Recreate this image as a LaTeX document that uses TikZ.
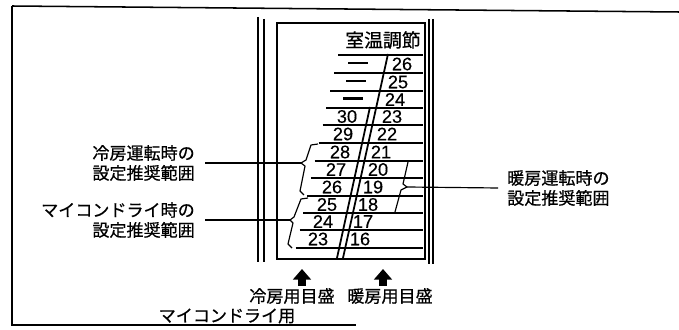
\documentclass[tikz,border=0pt]{standalone}
\usepackage{fontspec}
\setmainfont{Liberation Sans}
\newfontfamily\jpfont{Noto Sans CJK JP}[FakeBold=0.6]
\newfontfamily\numfont{Liberation Sans}[FakeBold=0.3]
\usetikzlibrary{arrows.meta, positioning, calc}

\begin{document}
\begin{tikzpicture}[x=0.85pt, y=-0.85pt,
    note/.style={font=\jpfont\fontsize{14.5}{17}\selectfont, inner sep=0pt},
    num/.style={font=\numfont\fontsize{15.5}{17}\selectfont, inner sep=0pt},
    rowline/.style={line width=1.1pt},
    brace/.style={line width=1pt, line join=round},
    bigarrow/.style={line width=6.5pt, -{Triangle[width=15pt, length=9pt]}}]

	\useasboundingbox (0,0) rectangle (679,330);

	% Outer frame
	\draw[line width=1.3pt] (12,6) -- (679,12);
	\draw[line width=1.3pt] (12,6) -- (12,325) -- (356,325);

	% Panel
	\draw[line width=1.4pt] (258,17) -- (258,262);
	\draw[line width=1pt] (264,19) -- (264,262);
	\draw[line width=1pt] (429,19) -- (429,264);
	\draw[line width=1.4pt] (433,19) -- (433,264);
	\draw[line width=1.3pt] (277,23) rectangle (425,259);
	\node[note, font=\jpfont\fontsize{16}{18}\selectfont] (title) at (383,40) {室温調節};

	% Scale rows
	\foreach \y in {55,73,91,108,125,143,161,178,196,213,230,248}
		\draw[rowline] ({338-0.22*(\y-55)},\y) -- (423,\y);

	% Slanted divider
	\draw[line width=1.5pt] (388,54) -- (343,258);
	\draw[line width=1.5pt] (370,107) -- (337,258);

	% Heating scale
	\foreach \t/\x/\y in {26/402/64, 25/398/82, 24/395/99.5, 23/392/116.5,
		22/387/134, 21/381/152, 20/378/169.5, 19/373/187, 18/368/204.5,
		17/363/221.5, 16/360/239}
		\node[num] (h\t) at (\x,\y) {\t};

	% Cooling scale
	\foreach \t/\x/\y in {30/347/116.5, 29/343/134, 28/340/152, 27/336/169.5,
		26/332/187, 25/327/204.5, 24/323/221.5, 23/318/239}
		\node[num] (c\t) at (\x,\y) {\t};
	\foreach \x/\y in {358/63, 356/81, 353/98.5}
		\draw[line width=1.8pt] (\x-10,\y) -- (\x+10,\y);

	% Recommended ranges
	\draw[brace] (318,144) -- (311,145) -- (306,160) -- (301,163) coordinate (coolTip)
		-- (305,166) -- (300,191) -- (304,195);
	\draw[brace] (308,198) -- (301,199) -- (294,217) -- (290,220) coordinate (dryTip)
		-- (293,223) -- (288,244) -- (292,248);
	\draw[brace] (408,162) -- (403,184) -- (407,187) coordinate (heatTip)
		-- (401,190) -- (395,212);

	\node[note, align=right, anchor=east] (cool) at (195,163) {冷房運転時の\\設定推奨範囲};
	\node[note, align=right, anchor=east] (dry) at (195,220) {マイコンドライ時の\\設定推奨範囲};
	\node[note, align=left, anchor=west] (heat) at (507,188) {暖房運転時の\\設定推奨範囲};

	\draw[line width=1pt] ([xshift=8.5pt]cool.east) -- (coolTip);
	\draw[line width=1pt] ([xshift=8.5pt]dry.east) -- (dryTip);
	\draw[line width=1pt] (heatTip) -- ([xshift=-7.5pt]heat.west);

	% Scale pointers
	\coordinate (coolFoot) at (302,286);
	\coordinate (heatFoot) at (383,286);
	\draw[bigarrow] (coolFoot) -- ++(0,-17);
	\draw[bigarrow] (heatFoot) -- ++(0,-17);
	\node[note] (coolScale) at (292,296) {冷房用目盛};
	\node[note] (heatScale) at (390,296) {暖房用目盛};
	\node[note] (dryScale) at (227,316) {マイコンドライ用};
\end{tikzpicture}
\end{document}
